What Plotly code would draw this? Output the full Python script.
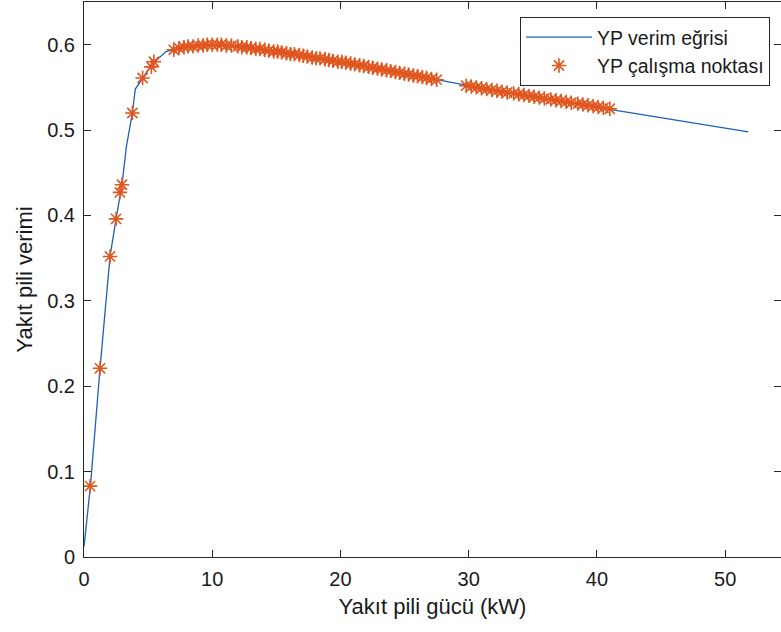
import plotly.graph_objects as go

# Efficiency curve (kW, efficiency)
curve_p = [0.0, 0.5, 1.25, 2.03, 2.5, 2.96, 3.3, 3.77, 4.0, 4.57, 5.36, 6.4, 8.0, 10.0,
           12.0, 15.0, 20.0, 25.0, 30.0, 35.0, 40.0, 45.0, 51.8]
curve_eff = [0.012, 0.083, 0.221, 0.352, 0.396, 0.436, 0.48, 0.52, 0.548, 0.561, 0.578, 0.592,
             0.598, 0.600, 0.598, 0.592, 0.580, 0.566, 0.552, 0.539, 0.527, 0.515, 0.498]

# Operating points
op_p = [0.47, 1.25, 2.03, 2.5, 2.8, 2.96, 3.77, 4.57, 5.25, 5.45,
        7.0, 7.4, 7.8, 8.1, 8.5, 8.9, 9.3, 9.6, 10.0, 10.4,
        10.7, 11.1, 11.5, 12.0, 12.3, 12.7, 13.0, 13.4, 13.7, 14.1,
        14.4, 14.8, 15.1, 15.4, 15.8, 16.1, 16.4, 16.8, 17.1, 17.4,
        17.8, 18.1, 18.4, 18.8, 19.1, 19.4, 19.8, 20.1, 20.4, 20.8,
        21.1, 21.5, 21.8, 22.2, 22.5, 22.9, 23.2, 23.6, 23.9, 24.3,
        24.6, 25.0, 25.3, 25.7, 26.0, 26.4, 26.7, 27.1, 27.5,
        29.8, 30.2, 30.6, 31.0, 31.4, 31.8, 32.2, 32.6, 33.0, 33.5,
        33.9, 34.3, 34.7, 35.1, 35.5, 35.9, 36.4, 36.8, 37.2, 37.6,
        38.0, 38.5, 38.9, 39.3, 39.7, 40.1, 40.5, 41.0]
op_eff = [0.083, 0.221, 0.352, 0.396, 0.427, 0.436, 0.520, 0.561, 0.574, 0.580,
          0.594, 0.596, 0.597, 0.598, 0.598, 0.599, 0.599, 0.600, 0.600, 0.600,
          0.600, 0.599, 0.599, 0.598, 0.597, 0.597, 0.596, 0.595, 0.595, 0.594,
          0.593, 0.592, 0.592, 0.591, 0.590, 0.589, 0.589, 0.588, 0.587, 0.586,
          0.585, 0.584, 0.584, 0.583, 0.582, 0.581, 0.580, 0.580, 0.579, 0.578,
          0.577, 0.576, 0.575, 0.574, 0.573, 0.572, 0.571, 0.570, 0.569, 0.568,
          0.567, 0.566, 0.565, 0.564, 0.563, 0.562, 0.561, 0.560, 0.559,
          0.552, 0.551, 0.550, 0.549, 0.548, 0.547, 0.546, 0.545, 0.544, 0.543,
          0.542, 0.541, 0.540, 0.539, 0.538, 0.537, 0.536, 0.535, 0.534, 0.533,
          0.532, 0.531, 0.530, 0.529, 0.528, 0.527, 0.526, 0.525]

x_ticks = [0, 10, 20, 30, 40, 50]
y_ticks = [0, 0.1, 0.2, 0.3, 0.4, 0.5, 0.6]
y_tick_text = ["0", "0.1", "0.2", "0.3", "0.4", "0.5", "0.6"]

FONT = "Liberation Sans, Arial, sans-serif"
AX = "#262626"

fig = go.Figure()
fig.add_trace(go.Scatter(x=curve_p, y=curve_eff, mode="lines", name="YP verim eğrisi",
                         line=dict(color="#1f5fb4", width=1.3)))
fig.add_trace(go.Scatter(x=op_p, y=op_eff, mode="markers", name="YP çalışma noktası",
                         marker=dict(symbol="asterisk-open", size=12, color="#E0561F",
                                     line=dict(color="#E0561F", width=1.6))))

axis_common = dict(showline=True, linecolor=AX, linewidth=1, mirror="ticks",
                   ticks="inside", ticklen=7, tickcolor=AX, tickwidth=1,
                   showgrid=False, zeroline=False, automargin=False,
                   tickfont=dict(family=FONT, size=20, color="#1a1a1a"))

fig.update_xaxes(range=[0, 54.35], tickvals=x_ticks, ticklabelstandoff=4,
                 title=dict(text="Yakıt pili gücü (kW)", standoff=9,
                            font=dict(family=FONT, size=22, color="#1a1a1a")),
                 **axis_common)
fig.update_yaxes(range=[0, 0.65], tickvals=y_ticks, ticktext=y_tick_text,
                 ticklabelstandoff=4,
                 title=dict(text="Yakıt pili verimi", standoff=8,
                            font=dict(family=FONT, size=22, color="#1a1a1a")),
                 **axis_common)

fig.update_layout(
    width=781, height=632,
    margin=dict(l=84, r=0, t=2, b=75, autoexpand=False),
    plot_bgcolor="white", paper_bgcolor="white",
    font=dict(family=FONT),
    legend=dict(x=(770 - 84) / 697, xanchor="right", y=(557 - 17) / 555, yanchor="top",
                bgcolor="white", bordercolor="#262626", borderwidth=1,
                font=dict(family=FONT, size=19.5, color="#1a1a1a"),
                itemwidth=66, tracegroupgap=0),
)

fig.write_html("out.html", config={"displayModeBar": False},
               post_script="document.body.style.margin='0';document.body.style.overflow='hidden';")
